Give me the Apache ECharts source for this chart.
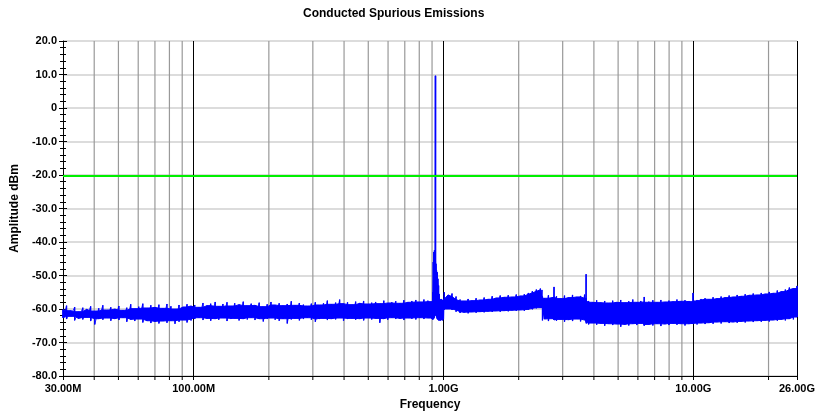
<!DOCTYPE html>
<html>
<head>
<meta charset="utf-8">
<script src="https://cdn.jsdelivr.net/npm/echarts@6/dist/echarts.min.js"></script>
<style>
  html, body { margin: 0; padding: 0; background: #fff; }
  #chart { width: 817px; height: 412px; }
</style>
</head>
<body>
<div id="chart"></div>
<script>
// ---- Data (frequency in MHz, amplitude in dBm) ----
const titleText = 'Conducted Spurious Emissions';
const xAxisName = 'Frequency';
const yAxisName = 'Amplitude dBm';
const xMin = 30, xMax = 26000;
const yMin = -80, yMax = 20, yStep = 10;

// minor grid lines (MHz)
const minorFreqs = [40, 50, 60, 70, 80, 90, 200, 300, 400, 500, 600, 700, 800, 900,
  2000, 3000, 4000, 5000, 6000, 7000, 8000, 9000, 20000];

// limit line
const limitFreqs = [30, 26000];
const limitLevel = [-20.3, -20.3];

// measured trace envelope: frequency, upper and lower edge
const traceFreq = [
  30, 31, 32.2, 33.4, 34.6, 36, 37.3, 38.7, 40.2, 41.7, 43.3, 44.9, 46.6, 48.4, 50.2, 52.1, 54, 56, 58.1, 60.3,
  62.6, 65, 67.4, 70, 72.6, 75.3, 78.2, 81.1, 84.2, 87.4, 90.7, 94.1, 97.6,
  101, 105, 109, 113, 117, 122, 126, 131, 136, 141, 146, 152, 158, 164, 170, 176, 183, 190, 197, 204,
  212, 220, 228, 237, 246, 255, 265, 275, 285, 296, 307, 319, 331, 343, 356, 370, 384, 398, 413, 429,
  445, 462, 479, 497, 516, 535, 556, 577, 598, 621, 644, 669, 694, 720, 747, 775, 805, 835, 866,
  899, 906, 910, 915, 920, 925, 928, 930, 933, 938, 944, 950, 956, 962, 970, 980, 990, 1000,
  1008, 1043, 1082, 1123, 1165, 1209, 1255, 1302, 1351, 1402, 1455, 1510, 1567, 1626, 1687,
  1751, 1817, 1885, 1956, 2030, 2107, 2186, 2269, 2354, 2443, 2478,
  2490, 2535, 2631, 2730, 2760, 2770, 2780, 2833, 2940, 3051, 3166, 3285, 3409, 3537, 3671, 3715, 3723, 3731, 3809, 3953,
  4102, 4256, 4417, 4583, 4756, 4935, 5121, 5314, 5515, 5723, 5938, 6162, 6340, 6360, 6380,
  6636, 6886, 7146, 7415, 7695, 7985, 8286, 8599, 8923, 9260, 9609, 9950, 9971, 9992, 10347, 10737,
  11142, 11562, 11998, 12450, 12920, 13407, 13912, 14437, 14981, 15546, 16132, 16740, 17371, 18026,
  18706, 19411, 20143, 20902, 21690, 22508, 23357, 24237, 25151, 26000
];
const traceHigh = [
  -60.2, -59.0, -60.5, -59.4, -60.8, -59.6, -60.1, -59.2, -60.6, -59.8, -58.9, -60.3, -59.5, -60.0, -59.1, -60.4, -59.6, -58.6, -59.9, -59.3,
  -58.4, -59.7, -58.9, -59.5, -58.7, -59.8, -58.5, -59.2, -60.0, -58.8, -59.4, -58.6, -59.1,
  -58.8, -59.5, -58.2, -59.0, -58.4, -57.9, -59.2, -58.5, -58.0, -59.1, -58.3, -58.7, -57.8, -59.0, -58.4, -58.9, -58.1, -59.3, -58.6, -57.9,
  -58.8, -58.3, -59.0, -58.5, -57.7, -58.9, -58.2, -58.7, -59.1, -58.4, -58.0, -58.8, -58.3, -57.5, -58.6, -58.1, -57.2, -58.4, -58.0, -58.7,
  -57.8, -58.3, -57.6, -58.5, -58.1, -57.9, -58.4, -57.5, -58.2, -58.0, -57.7, -58.3, -57.4, -58.0, -57.6, -57.3, -57.9, -57.2, -57.5,
  -57.8, -55.0, -46.0, -43.0, -42.5, -44.0, 9.6, 9.6, -46.5, -48.5, -49.0, -51.0, -53.0, -55.5, -57.2, -57.0, -57.4, -57.0,
  -55.0, -55.8, -55.4, -56.3, -57.2, -57.6, -57.0, -57.5, -56.8, -57.3, -56.6, -57.1, -56.2, -56.7, -56.0,
  -56.5, -55.9, -56.4, -55.7, -56.1, -55.6, -55.2, -54.7, -54.2, -53.9, -54.3,
  -56.3, -56.8, -55.9, -56.5, -56.6, -53.4, -56.4, -56.2, -56.9, -56.0, -56.6, -55.8, -56.4, -56.1, -55.7, -56.8, -49.6, -57.4, -57.6, -58.0,
  -57.4, -58.1, -57.6, -58.2, -57.5, -58.0, -57.3, -58.1, -57.7, -57.2, -58.0, -57.6, -57.9, -56.4, -58.0,
  -57.8, -57.4, -58.0, -57.3, -57.9, -57.5, -57.8, -57.2, -57.7, -57.4, -57.6, -57.8, -55.2, -57.6, -57.3, -57.0,
  -56.8, -57.1, -56.5, -56.9, -56.3, -56.6, -56.0, -56.4, -55.8, -56.2, -55.6, -55.9, -55.4, -55.8,
  -55.2, -55.5, -54.9, -55.3, -54.5, -54.8, -54.2, -53.6, -53.9, -53.1
];
const traceLow = [
  -62.6, -63.0, -62.2, -63.4, -62.8, -63.1, -62.5, -63.6, -64.6, -62.9, -63.2, -62.7, -63.5, -62.9, -63.3, -62.6, -63.8, -63.1, -63.6, -63.0,
  -64.0, -63.5, -64.2, -63.7, -64.3, -63.6, -64.1, -63.5, -64.4, -63.8, -63.3, -64.0, -63.4,
  -63.0, -62.6, -63.3, -62.8, -63.5, -62.9, -63.2, -62.7, -63.6, -63.0, -62.8, -63.4, -62.9, -63.1, -62.6, -63.3, -62.9, -63.7, -63.0, -62.7,
  -63.2, -63.5, -62.9, -64.3, -63.1, -62.8, -63.4, -63.0, -62.6, -63.2, -63.8, -63.0, -62.8, -63.3, -62.9, -63.1, -62.7, -63.5, -63.0, -62.8,
  -63.2, -62.9, -63.4, -62.7, -63.1, -62.8, -64.1, -62.9, -63.2, -62.6, -63.0, -62.8, -63.3, -62.7, -62.9, -63.1, -62.6, -63.0, -62.7,
  -63.0, -63.2, -63.0, -62.8, -62.5, -62.0, -61.0, -61.0, -62.0, -62.5, -63.0, -63.2, -63.4, -63.3, -63.5, -63.2, -63.4, -63.1,
  -60.2, -60.0, -60.3, -60.8, -61.2, -61.0, -61.3, -60.9, -61.1, -60.8, -61.0, -60.7, -60.9, -60.6, -60.8,
  -60.5, -60.7, -60.4, -60.6, -60.3, -60.5, -60.2, -60.1, -59.8, -59.6, -59.7,
  -63.4, -63.0, -63.6, -62.9, -63.1, -63.2, -63.3, -63.5, -63.1, -63.8, -63.2, -63.6, -63.0, -63.7, -63.3, -63.6, -64.0, -64.3, -64.6, -64.2,
  -64.7, -64.3, -65.0, -64.4, -64.8, -64.5, -65.3, -64.6, -64.9, -64.4, -64.8, -64.3, -64.6, -65.0, -64.7,
  -64.6, -64.9, -64.4, -65.1, -64.5, -64.8, -64.3, -64.7, -64.4, -64.9, -64.5, -64.4, -64.3, -64.5, -64.6, -64.2,
  -64.5, -64.1, -64.4, -63.9, -64.3, -63.8, -64.2, -63.9, -64.1, -63.7, -64.0, -63.6, -63.9, -63.5,
  -63.8, -63.4, -63.7, -63.3, -63.5, -63.1, -63.4, -62.9, -63.1, -62.4
];

// ---- Chart ----
const FONT = '"Liberation Sans", Arial, Helvetica, sans-serif';
const chart = echarts.init(document.getElementById('chart'), null, { renderer: 'canvas' });

function freqLabel(v) {
  if (v >= 1000) return (v / 1000).toFixed(2) + 'G';
  return v.toFixed(2) + 'M';
}
function ampLabel(v) {
  return v === 0 ? '0' : v.toFixed(1);
}

const option = {
  backgroundColor: '#ffffff',
  animation: false,
  textStyle: { fontFamily: FONT },
  graphic: [{
    type: 'text', left: 303, top: 8,
    style: { text: titleText, font: 'bold 12px ' + FONT, fill: '#000' }
  }],
  grid: { left: 63, right: 20, top: 41, bottom: 36, containLabel: false, outerBoundsMode: 'none' },
  xAxis: {
    type: 'log', logBase: 10, min: xMin, max: xMax,
    name: xAxisName, nameLocation: 'middle', nameGap: 22,
    nameTextStyle: { fontFamily: FONT, fontSize: 12, fontWeight: 'bold', color: '#000' },
    axisLine: { show: true, onZero: false, lineStyle: { color: '#000', width: 1 } },
    axisTick: { show: true, length: 4, lineStyle: { color: '#000' } },
    axisLabel: { formatter: freqLabel, fontFamily: FONT, fontSize: 11, fontWeight: 'bold', color: '#000', margin: 7,
      showMinLabel: true, showMaxLabel: true },
    splitLine: { show: true, lineStyle: { color: '#000', width: 1 } }
  },
  yAxis: [{
    type: 'value', min: yMin, max: yMax, interval: yStep,
    name: yAxisName, nameLocation: 'middle', nameGap: 42, nameRotate: 90,
    nameTextStyle: { fontFamily: FONT, fontSize: 12, fontWeight: 'bold', color: '#000' },
    axisLine: { show: true, lineStyle: { color: '#000', width: 1 } },
    axisTick: { show: true, length: 4, lineStyle: { color: '#000' } },
    minorTick: { show: true, splitNumber: 5, length: 3, lineStyle: { color: '#000' } },
    axisLabel: { formatter: ampLabel, fontFamily: FONT, fontSize: 11, fontWeight: 'bold', color: '#000', margin: 6 },
    splitLine: { show: true, lineStyle: { color: '#d0d0d0', width: 1.5 } }
  }, {
    type: 'value', min: yMin, max: yMax, interval: yStep, position: 'left',
    axisLine: { show: false },
    axisTick: { show: true, inside: true, length: 4, lineStyle: { color: '#000' } },
    minorTick: { show: true, splitNumber: 5, length: 3, lineStyle: { color: '#000' } },
    axisLabel: { show: false },
    splitLine: { show: false }
  }],
  series: [
    {
      name: 'minorGrid', type: 'custom', z: 1, silent: true, clip: false,
      data: minorFreqs.map(f => [f, yMin]),
      renderItem: function (params, api) {
        const x = api.coord([api.value(0), yMin])[0];
        const top = params.coordSys.y, bottom = params.coordSys.y + params.coordSys.height;
        return {
          type: 'group', children: [
            { type: 'line', shape: { x1: x, y1: top, x2: x, y2: bottom }, style: { stroke: '#999999', lineWidth: 1.2 } },
            { type: 'line', shape: { x1: x, y1: bottom, x2: x, y2: bottom + 4 }, style: { stroke: '#000', lineWidth: 1 } }
          ]
        };
      }
    },
    {
      name: 'trace', type: 'custom', z: 2, silent: true,
      data: [[traceFreq[0], traceHigh[0]]],
      renderItem: function (params, api) {
        const n = traceFreq.length;
        const up = [], dn = [], spikes = [];
        for (let i = 0; i < n; i++) {
          const a = Math.max(0, i - 1), b = Math.min(n - 1, i + 1);
          // solid core: the inner edge of each point and its neighbours
          const coreHi = Math.min(traceHigh[a], traceHigh[i], traceHigh[b]);
          const coreLo = Math.max(traceLow[a], traceLow[i], traceLow[b]);
          up.push(api.coord([traceFreq[i], coreHi]));
          dn.push(api.coord([traceFreq[i], coreLo]));
          const p1 = api.coord([traceFreq[i], traceHigh[i]]);
          const p2 = api.coord([traceFreq[i], traceLow[i]]);
          spikes.push({ type: 'line', shape: { x1: p1[0], y1: p1[1], x2: p2[0], y2: p2[1] },
            style: { stroke: '#0000ff', lineWidth: 1.3 } });
        }
        const zig = [];
        for (let i = 0; i < n; i++) {
          zig.push(api.coord([traceFreq[i], traceHigh[i]]));
          zig.push(api.coord([traceFreq[i], traceLow[i]]));
        }
        const children = [
          { type: 'polygon', shape: { points: up.concat(dn.reverse()) }, style: { fill: '#0000ff', stroke: '#0000ff', lineWidth: 1 } },
          { type: 'polyline', shape: { points: zig }, style: { stroke: '#0000ff', lineWidth: 0.8, fill: null } }
        ].concat(spikes);
        return { type: 'group', children: children };
      }
    },
    {
      name: 'limit', type: 'line', z: 3, silent: true, symbol: 'none',
      data: limitFreqs.map((f, i) => [f, limitLevel[i]]),
      lineStyle: { color: '#00f000', width: 2 }
    }
  ]
};
chart.setOption(option);
</script>
</body>
</html>
